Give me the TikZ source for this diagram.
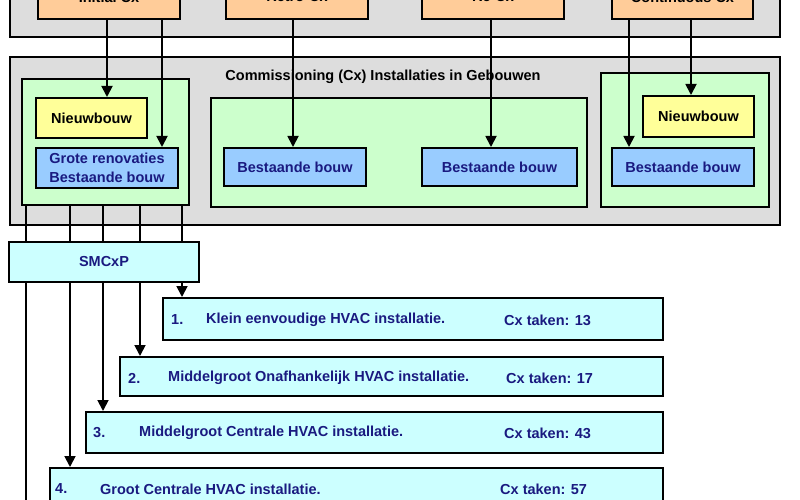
\documentclass[tikz,border=0pt]{standalone}
\usepackage{fontspec}
\setmainfont{Liberation Sans}
\usetikzlibrary{arrows.meta}
\definecolor{grayfill}{HTML}{DDDDDD}
\definecolor{orangefill}{HTML}{FFCC99}
\definecolor{greenfill}{HTML}{CCFFCC}
\definecolor{yellowfill}{HTML}{FFFF99}
\definecolor{bluefill}{HTML}{99CCFF}
\definecolor{cyanfill}{HTML}{CCFFFF}
\definecolor{navytext}{HTML}{1A1A80}
\begin{document}
\begin{tikzpicture}[x=1pt,y=-1pt,
  font=\fontsize{14.5}{19}\selectfont\bfseries,
  bx/.style={draw=black, line width=2pt, inner sep=0pt},
  graybox/.style={bx, fill=grayfill},
  orangebox/.style={bx, fill=orangefill, minimum height=44pt},
  greenbox/.style={bx, fill=greenfill},
  yellowbox/.style={bx, fill=yellowfill, minimum width=111pt, minimum height=40pt},
  bluebox/.style={bx, fill=bluefill, text=navytext, minimum height=38pt},
  cyanbox/.style={bx, fill=cyanfill, text=navytext},
  lbl/.style={inner sep=0pt, text=navytext, anchor=west},
  ln/.style={line width=1.8pt},
  arr/.style={line width=1.8pt, -{Triangle[length=11pt,width=11pt]}}
]
\clip (0,0) rectangle (800,500);
\fill[white] (0,0) rectangle (800,500);

% top group
\node[graybox, minimum width=770pt, minimum height=72pt] (topgray) at (395,1) {};
\node[orangebox, minimum width=142pt] (init) at (109,-3) {Initial Cx};
\node[orangebox, minimum width=142pt] (retro) at (297,-3) {Retro-Cx};
\node[orangebox, minimum width=142pt] (recx) at (493,-3) {Re-Cx};
\node[orangebox, minimum width=141pt] (cont) at (682.5,-3) {Continuous Cx};

% main group
\node[graybox, minimum width=770pt, minimum height=168pt] (maingray) at (395,141) {};
\node[inner sep=0pt] (title) at (383,77) {Commissioning (Cx) Installaties in Gebouwen};

\node[greenbox, minimum width=167pt, minimum height=126pt] (g1) at (105.5,142) {};
\node[yellowbox] (nb1) at (91.5,118) {Nieuwbouw};
\node[bluebox, minimum width=142pt, minimum height=40pt, align=left] (gr) at (107,168) {Grote renovaties\\Bestaande bouw};

\node[greenbox, minimum width=376pt, minimum height=109pt] (g2) at (399,152.5) {};
\node[bluebox, minimum width=142pt] (bb1) at (295,167) {Bestaande bouw};
\node[bluebox, minimum width=155pt] (bb2) at (499.5,167) {Bestaande bouw};

\node[greenbox, minimum width=168pt, minimum height=134pt] (g3) at (685,140) {};
\node[yellowbox, minimum height=41pt] (nb2) at (698.5,116.5) {Nieuwbouw};
\node[bluebox, minimum width=142pt] (bb3) at (683,167) {Bestaande bouw};

% SMCxP
\node[cyanbox, minimum width=190pt, minimum height=40pt] (smcxp) at (104,262) {SMCxP};

% numbered boxes
\node[cyanbox, minimum width=500pt, minimum height=42pt] (r1) at (413,319) {};
\node[cyanbox, minimum width=543pt, minimum height=39pt] (r2) at (391.5,376.5) {};
\node[cyanbox, minimum width=577pt, minimum height=41pt] (r3) at (374.5,432.5) {};
\node[cyanbox, minimum width=613pt, minimum height=42pt] (r4) at (356.5,489) {};

\node[lbl] (r1n) at (171,320) {1.};
\node[lbl] (r1t) at (206,320) {Klein eenvoudige HVAC installatie.};
\node[lbl] (r1c) at (504,320) {Cx taken: 13};
\node[lbl] (r2n) at (128,378) {2.};
\node[lbl] (r2t) at (168,378) {Middelgroot Onafhankelijk HVAC installatie.};
\node[lbl] (r2c) at (506,378) {Cx taken: 17};
\node[lbl] (r3n) at (93,433) {3.};
\node[lbl] (r3t) at (139,433) {Middelgroot Centrale HVAC installatie.};
\node[lbl] (r3c) at (504,433) {Cx taken: 43};
\node[lbl] (r4n) at (55,489) {4.};
\node[lbl] (r4t) at (100,489) {Groot Centrale HVAC installatie.};
\node[lbl] (r4c) at (500,489) {Cx taken: 57};

% x positions of connectors
\coordinate (xa) at (107,0);
\coordinate (xb) at (162,0);
\coordinate (xc) at (293,0);
\coordinate (xd) at (491,0);
\coordinate (xe) at (629,0);
\coordinate (xf) at (691,0);
\coordinate (s1) at (26,0);
\coordinate (s2) at (70,0);
\coordinate (s3) at (103,0);
\coordinate (s4) at (140,0);
\coordinate (s5) at (182,0);
\coordinate (offbottom) at (26,520);

% top connectors
\draw[arr] (xa |- init.south) -- (xa |- nb1.north);
\draw[arr] (xb |- init.south) -- (xb |- gr.north);
\draw[arr] (xc |- retro.south) -- (xc |- bb1.north);
\draw[arr] (xd |- recx.south) -- (xd |- bb2.north);
\draw[arr] (xe |- cont.south) -- (xe |- bb3.north);
\draw[arr] (xf |- cont.south) -- (xf |- nb2.north);

% group 1 to SMCxP
\foreach \s in {s1,s2,s3,s4,s5}{
  \draw[ln] (\s |- g1.south) -- (\s |- smcxp.north);
}

% SMCxP to numbered boxes
\draw[ln] (s1 |- smcxp.south) -- (offbottom);
\draw[arr] (s2 |- smcxp.south) -- (s2 |- r4.north);
\draw[arr] (s3 |- smcxp.south) -- (s3 |- r3.north);
\draw[arr] (s4 |- smcxp.south) -- (s4 |- r2.north);
\draw[arr] (s5 |- smcxp.south) -- (s5 |- r1.north);
\end{tikzpicture}
\end{document}
